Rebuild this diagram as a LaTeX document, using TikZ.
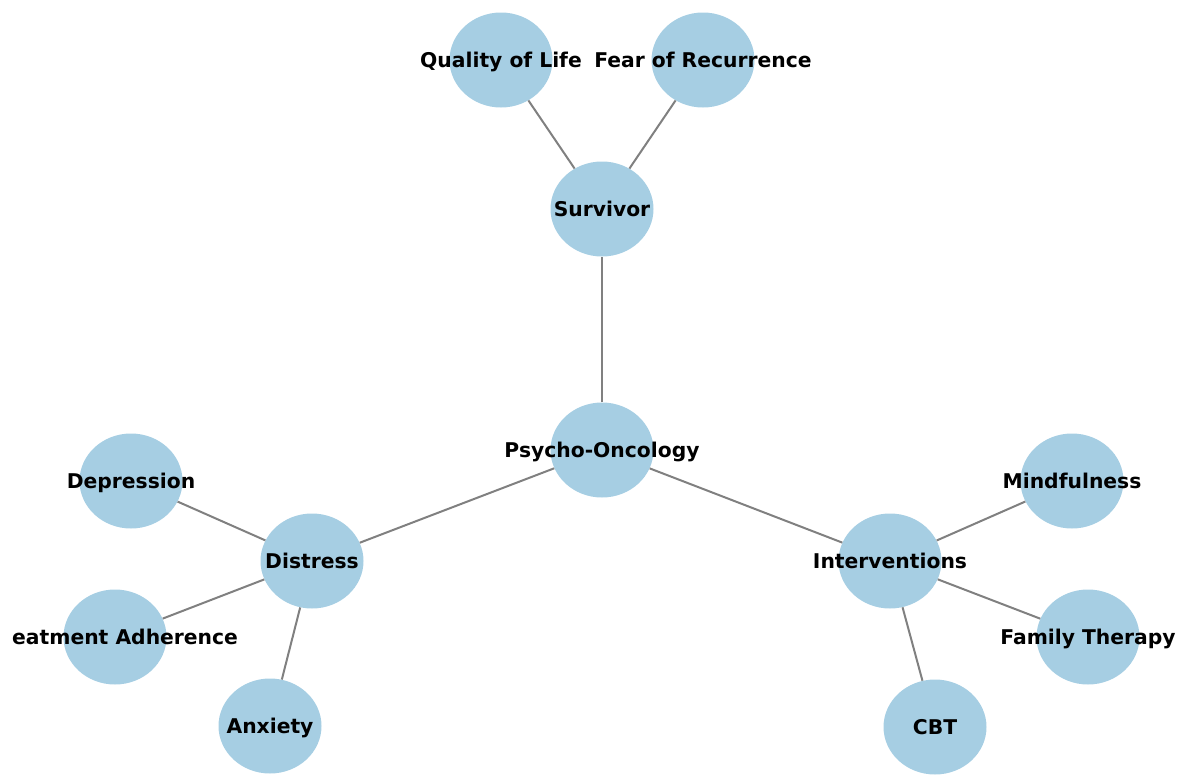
\documentclass[tikz,border=0pt]{standalone}
\usepackage{fontspec}
\setmainfont{DejaVu Sans}
\usetikzlibrary{shapes.geometric}
\definecolor{nodeBlue}{RGB}{166,206,227}
\definecolor{edgeGray}{RGB}{128,128,128}

\tikzset{
    topic/.style={ellipse, fill=nodeBlue, minimum width=103pt, minimum height=95pt, inner sep=0pt},
    lbl/.style={font=\fontsize{20.3}{24}\selectfont\bfseries, text=black, inner sep=0pt,
        text height=19pt, text depth=4.5pt},
    link/.style={line width=2pt, edgeGray}
}

\begin{document}
\begin{tikzpicture}[x=1pt,y=-1pt]
    \useasboundingbox (0,0) rectangle (1181,774);
    % Draw the nodes
    \foreach \name/\x/\y/\txt in {
        root/602/450/Psycho-Oncology,
        surv/602/209/Survivor,
        qol/501/60/Quality of Life,
        fear/703/60/Fear of Recurrence,
        dist/312/561/Distress,
        depr/131/481/Depression,
        anx/270/726/Anxiety,
        intv/890/561/Interventions,
        mind/1072/481/Mindfulness,
        fam/1088/637/Family Therapy,
        cbt/935/727/CBT} {
        \node[topic, label={[lbl]center:\txt}] (\name) at (\x,\y) {};
    }
    % Label cut off at the left border
    \node[topic] (adh) at (115,637) {};
    \node[lbl, anchor=west] (adhtext) at (12,637) {eatment Adherence};
    % Draw the edges
    \foreach \a/\b in {root/surv, surv/qol, surv/fear, root/dist, dist/depr, dist/adh, dist/anx,
        root/intv, intv/mind, intv/fam, intv/cbt} {
        \draw[link] (\a) -- (\b);
    }
\end{tikzpicture}
\end{document}
